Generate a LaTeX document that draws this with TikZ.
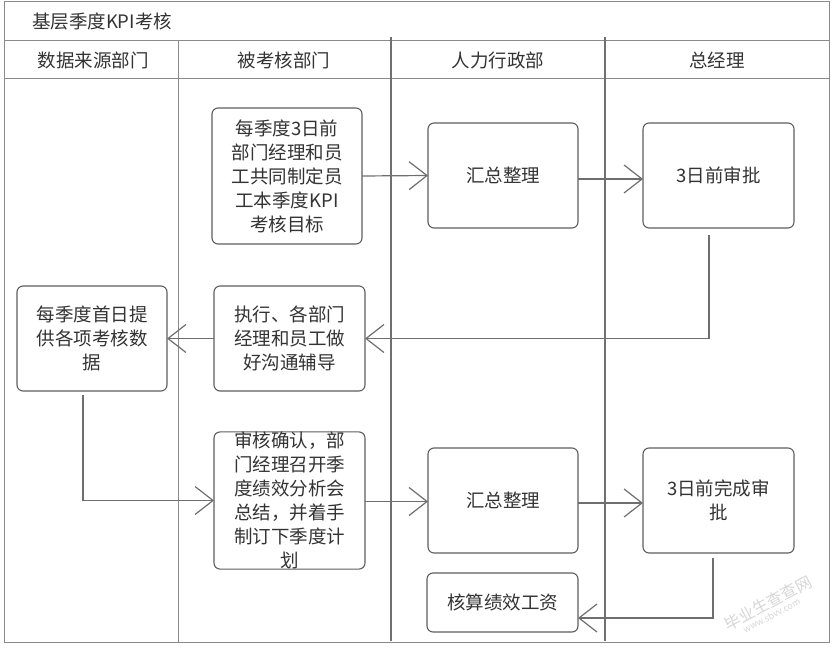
\documentclass[tikz,border=0pt]{standalone}
\usepackage{fontspec}
\setmainfont{Noto Sans CJK SC}
\usetikzlibrary{arrows.meta}
\definecolor{txt}{HTML}{333333}
\definecolor{frame}{HTML}{8A8A8A}
\definecolor{lane}{HTML}{707070}
\definecolor{boxc}{HTML}{5E5E5E}
\definecolor{arr}{HTML}{6E6E6E}
\definecolor{wm}{HTML}{D6D6D6}
\begin{document}
\begin{tikzpicture}[x=1pt,y=-1pt,
  every node/.style={text=txt,inner sep=0pt,outer sep=0pt},
  lbl/.style={font=\fontsize{18.5}{24}\selectfont,align=center},
  procbox/.style={lbl,draw=boxc,line width=1.1pt,rounded corners=6pt,fill=white},
  flow/.style={draw=arr,line width=1.2pt,-{Straight Barb[length=18pt,width=28pt]}},
  lanel/.style={draw=lane,line width=1.6pt}]
\useasboundingbox (0,0) rectangle (834,647);
% frame
\draw[frame,line width=1pt] (4,2) rectangle (829,642);
\draw[frame,line width=1pt] (4,41) -- (829,41);
\draw[frame,line width=1pt] (4,79) -- (829,79);
\draw[frame,line width=1pt] (178,41) -- (178,642);
\draw[lanel] (391,37) -- (391,641);
\draw[lanel] (605,37) -- (605,641);
% title & headers
\node[lbl,anchor=west] (title) at (32,22) {基层季度KPI考核};
\node[lbl] (h1) at (93,60) {数据来源部门};
\node[lbl] (h2) at (284,60) {被考核部门};
\node[lbl] (h3) at (498,60) {人力行政部};
\node[lbl] (h4) at (717,60) {总经理};
% boxes
\node[procbox,minimum width=150pt,minimum height=136pt] (A) at (287,176) {每季度3日前\\部门经理和员\\工共同制定员\\工本季度KPI\\考核目标};
\node[procbox,minimum width=150pt,minimum height=105pt] (B) at (503,175.5) {汇总整理};
\node[procbox,minimum width=151pt,minimum height=105pt] (C) at (718.5,175.5) {3日前审批};
\node[procbox,minimum width=150pt,minimum height=105pt] (D) at (92,338.5) {每季度首日提\\供各项考核数\\据};
\node[procbox,minimum width=151pt,minimum height=105pt] (E) at (289.5,338.5) {执行、各部门\\经理和员工做\\好沟通辅导};
\node[procbox,minimum width=151pt,minimum height=135pt] (F) at (289.5,500.5) {审核确认，部\\门经理召开季\\度绩效分析会\\总结，并着手\\制订下季度计\\划};
\node[procbox,minimum width=150pt,minimum height=105pt] (G) at (503,500.5) {汇总整理};
\node[procbox,minimum width=151pt,minimum height=105pt] (H) at (718.5,500.5) {3日前完成审\\批};
\node[procbox,minimum width=151pt,minimum height=59pt] (I) at (502.5,602.5) {核算绩效工资};
% connectors
\coordinate (c1) at ([xshift=-9.5pt,yshift=-7pt]C.south);
\coordinate (d1) at ([xshift=-9pt,yshift=-4pt]D.south);
\coordinate (h1s) at ([xshift=-5.5pt,yshift=-5pt]H.south);
\draw[flow] (A.east) -- (B.west);
\draw[flow] ([yshift=-3.5pt]B.east) -- ([yshift=-3.5pt]C.west);
\draw[flow] (c1) |- (E.east);
\draw[flow] (E.west) -- (D.west -| D.east);
\draw[flow] (d1) |- (F.west);
\draw[flow] ([yshift=-1pt]F.east) -- ([yshift=-1pt]G.west);
\draw[flow] ([yshift=-2.5pt]G.east) -- ([yshift=-2.5pt]H.west);
\draw[flow] (h1s) |- ([yshift=-15.5pt]I.east);
% watermark
\node[text=wm,rotate=28,align=left] (wm) at (770,607)
  {{\fontsize{16}{18}\selectfont 毕业生查查网}\\[-2pt]{\fontsize{9}{11}\selectfont\hspace*{14pt}www.sbvv.com}};
\end{tikzpicture}
\end{document}
